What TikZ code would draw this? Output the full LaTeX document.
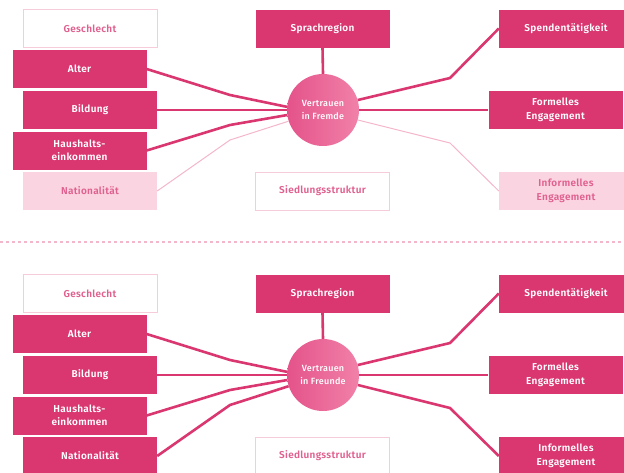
\documentclass[tikz,border=0pt]{standalone}
\usepackage{fontspec}
\setmainfont{Fira Sans}
\newfontfamily\boxfont{Fira Sans SemiBold}[LetterSpace=3]
\newfontfamily\hubfont{Fira Sans Medium}[LetterSpace=3]
\definecolor{vpink}{HTML}{DA3670}
\definecolor{vpale}{HTML}{FAD4E0}
\definecolor{vedge}{HTML}{F6CCDA}
\definecolor{vtext}{HTML}{E0608F}
\definecolor{vthin}{HTML}{F4B6CA}
\definecolor{vleft}{HTML}{E4538A}
\definecolor{vright}{HTML}{F181A8}
\tikzset{
  box/.style={minimum width=134pt, minimum height=38pt, inner sep=0pt, align=center,
    font=\boxfont\fontsize{10}{13.5}\selectfont},
  darkbox/.style={box, fill=vpink, text=white},
  whitebox/.style={box, draw=vedge, line width=1pt, fill=white, text=vtext},
  lightbox/.style={box, fill=vpale, text=vtext},
  thickline/.style={draw=vpink, line width=2.6pt},
  thinline/.style={draw=vthin, line width=1pt},
  hub/.style={circle, minimum size=72pt, inner sep=0pt, align=center, left color=vleft,
    right color=vright, text=white, font=\hubfont\fontsize{9}{13.5}\selectfont}
}

\begin{document}
\begin{tikzpicture}[x=1pt,y=-1pt]
    \useasboundingbox (0,0) rectangle (624,472);
    \clip (0,0) rectangle (624,472);
    \foreach \p/\dy/\hubtext/\weakbox/\weakline in
      {1/0/{Vertrauen\\in Fremde}/lightbox/thinline,
       2/265/{Vertrauen\\in Freunde}/darkbox/thickline}{
      \begin{scope}[shift={(0,\dy)}]
        % left column
        \node[whitebox] (geschlecht\p) at (90,28.5) {Geschlecht};
        \node[darkbox] (alter\p) at (79.5,69) {Alter};
        \node[darkbox] (bildung\p) at (90,110) {Bildung};
        \node[darkbox] (einkommen\p) at (79.5,150.5) {Haushalts-\\einkommen};
        \node[\weakbox] (nation\p) at (90,191) {Nationalität};
        % middle
        \node[darkbox] (sprache\p) at (322.5,28.5) {Sprachregion};
        \node[hub] (vertrauen\p) at (323,110) {\hubtext};
        \node[whitebox] (siedlung\p) at (322.5,191) {Siedlungsstruktur};
        % right column
        \node[darkbox] (spende\p) at (566,28.5) {Spendentätigkeit};
        \node[darkbox] (formell\p) at (555.5,110) {Formelles\\Engagement};
        \node[\weakbox] (informell\p) at (566,191) {Informelles\\Engagement};
        % connectors
        \draw[thickline] (sprache\p.south) -- (vertrauen\p.north);
        \draw[thickline] (alter\p.east) -- (230,95) -- (vertrauen\p.175);
        \draw[thickline] (bildung\p.east) -- (vertrauen\p.west);
        \draw[thickline] (einkommen\p.east) -- (230,125) -- (vertrauen\p.188);
        \draw[\weakline] (nation\p.east) -- (230,140) -- (vertrauen\p.198);
        \draw[thickline] (vertrauen\p.16) -- (450,78) -- (spende\p.west);
        \draw[thickline] (vertrauen\p.east) -- (formell\p.west);
        \draw[\weakline] (vertrauen\p.-16) -- (450,143) -- (informell\p.west);
      \end{scope}
    }
    \draw[vthin, line width=1.5pt, dash pattern=on 3pt off 3pt] (0,242) -- (624,242);
\end{tikzpicture}
\end{document}
